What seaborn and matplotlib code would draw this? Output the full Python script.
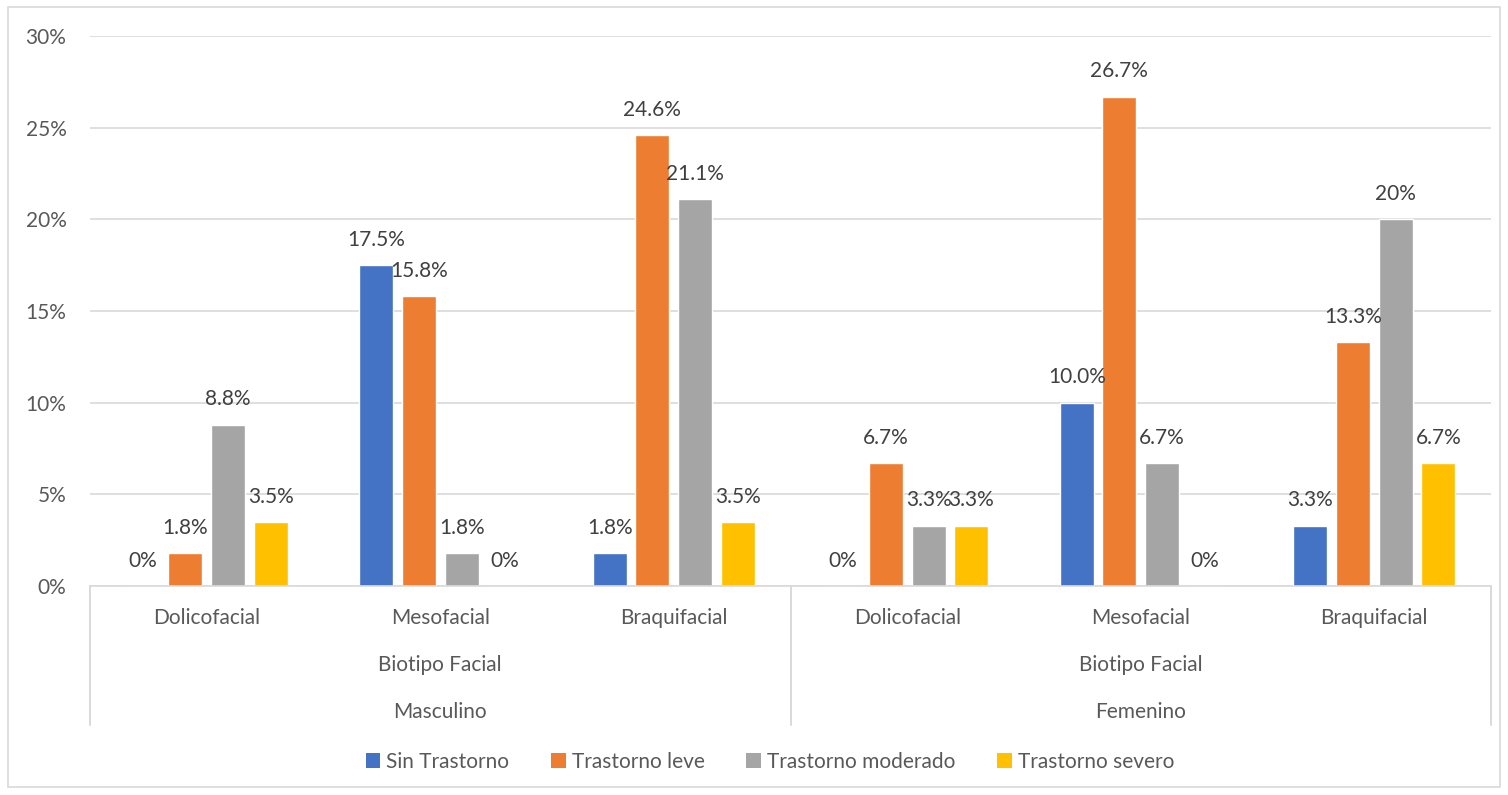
import matplotlib
matplotlib.use("Agg")
import matplotlib.pyplot as plt
import seaborn as sns
import pandas as pd
from matplotlib.patches import Patch, Rectangle
from matplotlib.ticker import FuncFormatter, MultipleLocator
import matplotlib.transforms as mtransforms

# ---------------- data ----------------
categories = ["Dolicofacial", "Mesofacial", "Braquifacial",
              "Dolicofacial", "Mesofacial", "Braquifacial"]
groups = ["Masculino", "Femenino"]
subgroup = "Biotipo Facial"
series = ["Sin Trastorno", "Trastorno leve", "Trastorno moderado", "Trastorno severo"]
sin_trastorno = [0.0, 17.5, 1.8, 0.0, 10.0, 3.3]
trastorno_leve = [1.8, 15.8, 24.6, 6.7, 26.7, 13.3]
trastorno_moderado = [8.8, 1.8, 21.1, 3.3, 6.7, 20.0]
trastorno_severo = [3.5, 0.0, 3.5, 3.3, 0.0, 6.7]
labels_sin = ["0%", "17.5%", "1.8%", "0%", "10.0%", "3.3%"]
labels_leve = ["1.8%", "15.8%", "24.6%", "6.7%", "26.7%", "13.3%"]
labels_mod = ["8.8%", "1.8%", "21.1%", "3.3%", "6.7%", "20%"]
labels_sev = ["3.5%", "0%", "3.5%", "3.3%", "0%", "6.7%"]
colors = ["#4472C4", "#ED7D31", "#A5A5A5", "#FFC000"]

values = [sin_trastorno, trastorno_leve, trastorno_moderado, trastorno_severo]
all_labels = [labels_sin, labels_leve, labels_mod, labels_sev]

rows = []
for s, vals in zip(series, values):
    for i, v in enumerate(vals):
        rows.append({"pos": i, "serie": s, "valor": v})
df = pd.DataFrame(rows)

# ---------------- style ----------------
sns.set_theme(style="white")
plt.rcParams["font.family"] = ["Lato", "DejaVu Sans"]
txt = "#595959"
grid = "#D9D9D9"
fs = 15

W, H = 1508, 795
fig = plt.figure(figsize=(W / 100, H / 100), dpi=100)
left, right, top, bottom = 90, 1491, 36, 586
ax = fig.add_axes([left / W, 1 - bottom / H, (right - left) / W, (bottom - top) / H])
axh = bottom - top

sns.barplot(data=df, x="pos", y="valor", hue="serie", hue_order=series,
            palette=colors, order=list(range(6)), width=0.731, gap=0.2,
            ax=ax, legend=False, saturation=1, errorbar=None)

for cont, labs in zip(ax.containers, all_labels):
    ax.bar_label(cont, labels=labs, padding=11, fontsize=fs, color="#404040")

ax.set_ylim(0, 30)
ax.set_xlim(-0.5, 5.5)
ax.yaxis.set_major_locator(MultipleLocator(5))
ax.yaxis.set_major_formatter(FuncFormatter(lambda v, p: f"{v:.0f}%"))
ax.yaxis.grid(True, color=grid, lw=1.2)
ax.set_axisbelow(True)
for side in ["left", "right", "top"]:
    ax.spines[side].set_visible(False)
ax.spines["bottom"].set_color(grid)
ax.spines["bottom"].set_linewidth(1.2)
ax.set_xlabel("")
ax.set_ylabel("")
ax.set_xticks(range(6))
ax.set_xticklabels(categories)
ax.tick_params(axis="x", length=0, pad=16, labelsize=fs, labelcolor=txt)
ax.tick_params(axis="y", length=0, pad=17, labelsize=fs, labelcolor=txt)

trans = mtransforms.blended_transform_factory(ax.transData, ax.transAxes)
for xv in [-0.5, 2.5, 5.5]:
    ax.plot([xv, xv], [0, -(725 - bottom) / axh], transform=trans, color=grid,
            lw=1.4, clip_on=False)
for gi, g in enumerate(groups):
    cx = 1 + 3 * gi
    ax.text(cx, -(665 - bottom) / axh, subgroup, transform=trans, ha="center",
            va="center", fontsize=fs, color=txt)
    ax.text(cx, -(712 - bottom) / axh, g, transform=trans, ha="center",
            va="center", fontsize=fs, color=txt)

handles = [Patch(facecolor=c, edgecolor="none", label=s) for s, c in zip(series, colors)]
fig.legend(handles=handles, loc="center", bbox_to_anchor=(770 / W, 1 - 762 / H),
           ncol=4, frameon=False, fontsize=fs, labelcolor=txt,
           handlelength=0.7, handleheight=0.7, handletextpad=0.3,
           columnspacing=2.0)

fig.patches.append(Rectangle((8 / W, 8 / H), 1492 / W, 780 / H,
                             transform=fig.transFigure, fill=False,
                             edgecolor=grid, lw=1.2))

fig.savefig("out.png", dpi=100)
